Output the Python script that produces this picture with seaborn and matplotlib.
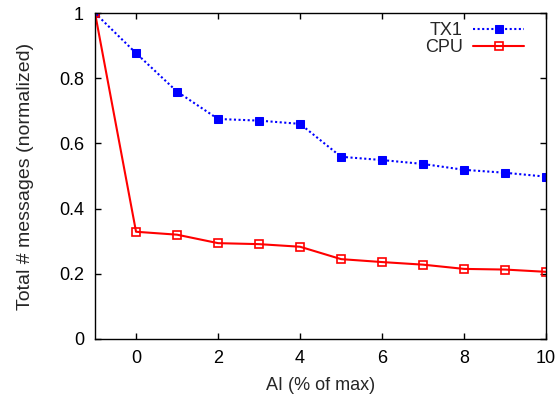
import matplotlib
matplotlib.use("Agg")
import matplotlib.pyplot as plt
import seaborn as sns
import pandas as pd

x_vals = [-1, 0, 1, 2, 3, 4, 5, 6, 7, 8, 9, 10]
tx1 = [1.0, 0.877, 0.759, 0.675, 0.670, 0.660, 0.559, 0.549, 0.537, 0.519, 0.510, 0.498]
cpu = [1.0, 0.329, 0.320, 0.294, 0.291, 0.283, 0.245, 0.236, 0.228, 0.215, 0.213, 0.206]
x_ticks = [0, 2, 4, 6, 8, 10]
y_ticks = [0, 0.2, 0.4, 0.6, 0.8, 1]
y_labels = ["0", "0.2", "0.4", "0.6", "0.8", "1"]

sns.set_style("ticks")
plt.rcParams['font.family'] = ['Liberation Sans', 'DejaVu Sans']

fig = plt.figure(figsize=(5.59, 3.96), dpi=100)
ax = fig.add_axes([0.170, 0.144, 0.807, 0.823])

df_tx = pd.DataFrame({"x": x_vals, "y": tx1})
df_cpu = pd.DataFrame({"x": x_vals, "y": cpu})

sns.lineplot(data=df_tx, x="x", y="y", ax=ax, color="#0000ff", linestyle=(0, (1, 1.2)),
             linewidth=1.5, marker="s", markersize=5.5, markerfacecolor="#0000ff",
             markeredgecolor="#0000ff", label="TX1")
sns.lineplot(data=df_cpu, x="x", y="y", ax=ax, color="#ff0000", linestyle="-",
             linewidth=1.5, marker="s", markersize=5.5, markerfacecolor="none",
             markeredgecolor="#ff0000", markeredgewidth=1.2, label="CPU")

ax.set_xlim(-1, 10)
ax.set_ylim(0, 1)
ax.set_xticks(x_ticks)
ax.set_yticks(y_ticks)
ax.set_yticklabels(y_labels)
ax.tick_params(direction="in", top=True, right=True, labelsize=13, length=4, width=1,
               colors="black", pad=8)
for s in ax.spines.values():
    s.set_visible(True)
    s.set_linewidth(1.0)
    s.set_color("black")
ax.set_xlabel("AI (% of max)", fontsize=13, labelpad=7)
ax.set_ylabel("Total # messages (normalized)", fontsize=14, labelpad=18)

leg = ax.legend(loc="upper right", bbox_to_anchor=(0.951, 0.973), frameon=False,
                markerfirst=False, fontsize=13, handlelength=2.8, borderaxespad=0,
                borderpad=0, labelspacing=0.0, handletextpad=0.6)

fig.savefig("out.png", dpi=100)
